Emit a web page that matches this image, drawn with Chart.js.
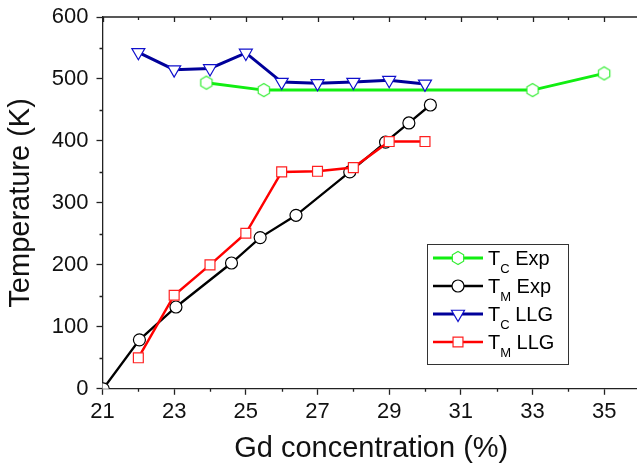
<!DOCTYPE html>
<html>
<head>
<meta charset="utf-8">
<script src="https://cdn.jsdelivr.net/npm/chart.js@4"></script>
<style>
  body { margin: 0; overflow: hidden; background: white; }
</style>
</head>
<body>
<canvas id="myChart" width="650" height="471"></canvas>
<script>
// data
let tcExpX = [23.9, 25.5, 33, 35];
let tcExpY = [494, 482, 482, 509];

let tmExpX = [21.02, 22.03, 23.05, 24.6, 25.4, 26.4, 27.9, 28.9, 29.55, 30.15];
let tmExpY = [0, 79, 132, 203, 244, 280, 350, 398, 429, 458];

let tcLlgX = [22, 23, 24, 25, 26, 27, 28, 29, 30];
let tcLlgY = [543, 515, 517, 542, 495, 493, 495, 498, 492];

let tmLlgX = [22, 23, 24, 25, 26, 27, 28, 29, 30];
let tmLlgY = [50, 151, 200, 251, 350, 351, 357, 399, 399];

let xTicks = [21, 23, 25, 27, 29, 31, 33, 35];
let xMinor = [22, 24, 26, 28, 30, 32, 34, 36];
let yTicks = [0, 100, 200, 300, 400, 500, 600];
let yMinor = [50, 150, 250, 350, 450, 550];

let legMain = ["T", "T", "T", "T"];
let legSub = ["C", "M", "C", "M"];
let legRest = [" Exp", " Exp", " LLG", " LLG"];

const FONT = "'Liberation Sans', Arial, sans-serif";

function pares(xs, ys) {
    return xs.map((x, i) => ({x: x, y: ys[i]}));
}

// hexagon marker, chart.js has none
function hexagono(color) {
    let c = document.createElement("canvas");
    c.width = 16; c.height = 16;
    let g = c.getContext("2d");
    g.beginPath();
    for (let i = 0; i < 6; i++) {
        let a = Math.PI / 2 + i * Math.PI / 3;
        let px = 8 + 6.5 * Math.cos(a);
        let py = 8 + 6.5 * Math.sin(a);
        if (i == 0) g.moveTo(px, py); else g.lineTo(px, py);
    }
    g.closePath();
    g.fillStyle = "white";
    g.fill();
    g.strokeStyle = color;
    g.lineWidth = 1.2;
    g.stroke();
    return c;
}

let hexImg = hexagono("#33ee33");

const datasets = [
    {label: "TC Exp", data: pares(tcExpX, tcExpY), borderColor: "#11ee11", borderWidth: 3,
     pointStyle: hexImg, pointRadius: 7, pointBorderColor: "#33ee33", pointBackgroundColor: "white", order: 3},
    {label: "TM Exp", data: pares(tmExpX, tmExpY), borderColor: "#000000", borderWidth: 2.3,
     pointStyle: "circle", pointRadius: 6, pointBorderWidth: 1.2, pointBorderColor: "#000000", pointBackgroundColor: "white", order: 2},
    {label: "TC LLG", data: pares(tcLlgX, tcLlgY), borderColor: "#00009a", borderWidth: 3,
     pointStyle: "triangle", rotation: 180, pointRadius: 7.5, pointBorderWidth: 1.2, pointBorderColor: "#1010cc", pointBackgroundColor: "white", order: 1},
    {label: "TM LLG", data: pares(tmLlgX, tmLlgY), borderColor: "#ff0000", borderWidth: 2.5,
     pointStyle: "rect", pointRadius: 7, pointBorderWidth: 1.2, pointBorderColor: "#ff2020", pointBackgroundColor: "white", order: 0}
];
datasets.forEach(d => { d.showLine = true; d.fill = false; d.tension = 0; });

// minor ticks, top frame and the legend
const extras = {
    id: "extras",
    afterDraw(chart) {
        let ctx = chart.ctx;
        let a = chart.chartArea;
        let sx = chart.scales.x, sy = chart.scales.y;
        ctx.save();
        ctx.strokeStyle = "#222";
        ctx.lineWidth = 1.3;
        ctx.beginPath();
        ctx.moveTo(a.left, a.top);
        ctx.lineTo(a.right, a.top);
        yMinor.forEach(v => {
            let p = Math.round(sy.getPixelForValue(v)) + 0.5;
            ctx.moveTo(a.left - 3, p); ctx.lineTo(a.left, p);
        });
        xMinor.forEach(v => {
            let p = Math.round(sx.getPixelForValue(v)) + 0.5;
            ctx.moveTo(p, a.bottom); ctx.lineTo(p, a.bottom + 3);
            ctx.moveTo(p, a.top); ctx.lineTo(p, a.top + 3);
        });
        xTicks.forEach(v => {
            let p = Math.round(sx.getPixelForValue(v)) + 0.5;
            ctx.moveTo(p, a.top); ctx.lineTo(p, a.top + 5);
        });
        ctx.stroke();

        // legend box
        let bx = 427, by = 244, bw = 141, bh = 120;
        ctx.fillStyle = "white";
        ctx.fillRect(bx, by, bw, bh);
        ctx.strokeStyle = "#333";
        ctx.lineWidth = 1;
        ctx.strokeRect(bx + 0.5, by + 0.5, bw, bh);
        for (let i = 0; i < datasets.length; i++) {
            let d = datasets[i];
            let y = by + 14 + i * 28;
            ctx.strokeStyle = d.borderColor;
            ctx.lineWidth = d.borderWidth;
            ctx.beginPath();
            ctx.moveTo(bx + 6, y); ctx.lineTo(bx + 56, y);
            ctx.stroke();
            ctx.strokeStyle = d.pointBorderColor;
            ctx.fillStyle = "white";
            ctx.lineWidth = d.pointBorderWidth || 1.2;
            Chart.helpers.drawPoint(ctx, {pointStyle: d.pointStyle, radius: d.pointRadius,
                rotation: d.rotation || 0, borderWidth: d.pointBorderWidth || 1.2}, bx + 31, y);
            ctx.fillStyle = "black";
            ctx.textBaseline = "alphabetic";
            ctx.font = "20px " + FONT;
            let tx = bx + 61;
            ctx.fillText(legMain[i], tx, y + 7);
            tx += ctx.measureText(legMain[i]).width;
            ctx.font = "13px " + FONT;
            ctx.fillText(legSub[i], tx, y + 15);
            tx += ctx.measureText(legSub[i]).width;
            ctx.font = "20px " + FONT;
            ctx.fillText(legRest[i], tx, y + 7);
        }
        ctx.restore();
    }
};

let myChart = document.getElementById("myChart");
const config = {
    type: "scatter",
    data: {datasets},
    options: {
        responsive: false,
        animation: false,
        layout: {padding: {left: 4, top: 17, right: 0, bottom: 5}},
        plugins: {legend: {display: false}, tooltip: {enabled: false}},
        scales: {
            x: {
                type: "linear", min: 21, max: 36,
                afterBuildTicks: s => { s.ticks = xTicks.map(v => ({value: v})); },
                grid: {drawOnChartArea: false, tickLength: 6, tickColor: "#222", tickWidth: 1.3},
                border: {color: "#222", width: 1.3},
                ticks: {color: "#111", font: {family: FONT, size: 22}, padding: 4, maxRotation: 0},
                title: {display: true, text: "Gd concentration (%)", color: "#111",
                        font: {family: FONT, size: 29}, padding: {top: 2, bottom: 0}}
            },
            y: {
                type: "linear", min: 0, max: 600,
                afterBuildTicks: s => { s.ticks = yTicks.map(v => ({value: v})); },
                grid: {drawOnChartArea: false, tickLength: 6, tickColor: "#222", tickWidth: 1.3},
                border: {color: "#222", width: 1.3},
                ticks: {color: "#111", font: {family: FONT, size: 22, lineHeight: 0.8}, padding: 8},
                title: {display: true, text: "Temperature (K)", color: "#111",
                        font: {family: FONT, size: 29}, padding: {top: 0, bottom: 5}}
            }
        }
    },
    plugins: [extras]
};
new Chart(myChart, config);
</script>
</body>
</html>
